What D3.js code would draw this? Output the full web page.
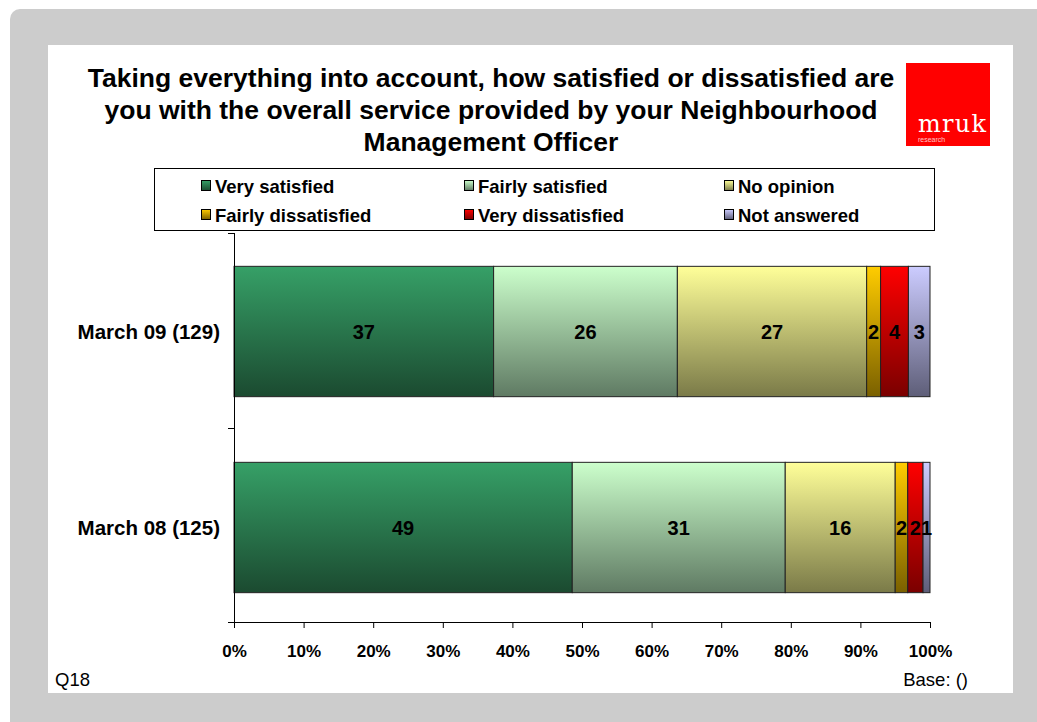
<!DOCTYPE html>
<html>
<head>
<meta charset="utf-8">
<script src="https://cdn.jsdelivr.net/npm/d3@7/dist/d3.min.js"></script>
<style>
  html, body { margin: 0; padding: 0; background: #fff; }
  svg { display: block; font-family: Arial, "Liberation Sans", sans-serif; }
</style>
</head>
<body>
<svg id="chart" width="1037" height="722"></svg>
<script>
// Survey waves, listed top-down
const categories = ["March 09 (129)", "March 08 (125)"];
const seriesNames = ["Very satisfied", "Fairly satisfied", "No opinion",
                     "Fairly dissatisfied", "Very dissatisfied", "Not answered"];
// Percentage of respondents per answer, one array per wave
const march09 = [37.3, 26.4, 27.2, 2.0, 4.0, 3.1];
const march08 = [48.6, 30.6, 15.8, 1.8, 2.2, 1.0];
const values = [march09, march08];
const tickValues = [0, 10, 20, 30, 40, 50, 60, 70, 80, 90, 100];
const titleLines = [
  "Taking everything into account, how satisfied or dissatisfied are",
  "you with the overall service provided by your Neighbourhood",
  "Management Officer"
];
// Gradient stops per series: top colour, bottom colour
const topColors = ["#36a067", "#ccffcc", "#ffff99", "#ffcc00", "#ff0000", "#ccccff"];
const bottomColors = ["#1b4a30", "#5f7a63", "#7a7a48", "#7a6000", "#7a0000", "#5e5e78"];

const svg = d3.select("#chart");
const defs = svg.append("defs");
seriesNames.forEach((s, i) => {
  const g = defs.append("linearGradient")
    .attr("id", "grad" + i).attr("x1", 0).attr("y1", 0).attr("x2", 0).attr("y2", 1);
  g.append("stop").attr("offset", "0%").attr("stop-color", topColors[i]);
  g.append("stop").attr("offset", "100%").attr("stop-color", bottomColors[i]);
});

// Frame: grey panel with rounded corner and white sheet
svg.append("rect").attr("x", 10).attr("y", 9).attr("width", 1060).attr("height", 740)
  .attr("rx", 10).attr("fill", "#cccccc");
svg.append("rect").attr("x", 48).attr("y", 45).attr("width", 965).attr("height", 648)
  .attr("fill", "#ffffff");

// Title
const title = svg.append("text").attr("text-anchor", "middle")
  .attr("font-weight", "bold").attr("font-size", 26.5).attr("fill", "#000");
titleLines.forEach((t, i) => {
  title.append("tspan").attr("x", 491).attr("y", 87 + i * 32).text(t);
});

// Logo
const logo = svg.append("g");
logo.append("rect").attr("x", 906).attr("y", 63).attr("width", 84).attr("height", 83).attr("fill", "#ff0000");
logo.append("text").attr("x", 986).attr("y", 132).attr("text-anchor", "end")
  .attr("font-family", "'DejaVu Serif', 'Liberation Serif', serif").attr("font-size", 24)
  .attr("fill", "#fff").attr("textLength", 68).text("mruk");
logo.append("text").attr("x", 918).attr("y", 142)
  .attr("font-size", 7).attr("fill", "#ffc8c8").text("research");

// Legend
const legend = svg.append("g");
legend.append("rect").attr("x", 154.5).attr("y", 168.5).attr("width", 780).attr("height", 62)
  .attr("fill", "#fff").attr("stroke", "#000").attr("stroke-width", 1);
const legX = [201, 464, 724];
const legY = [186, 215];
seriesNames.forEach((s, i) => {
  const col = i % 3, row = Math.floor(i / 3);
  const g = legend.append("g").attr("transform", `translate(${legX[col]},${legY[row]})`);
  g.append("rect").attr("x", 0.5).attr("y", -5.5).attr("width", 9).attr("height", 10)
    .attr("fill", `url(#grad${i})`).attr("stroke", "#000").attr("stroke-width", 1);
  g.append("text").attr("x", 14).attr("y", 6.5).attr("font-size", 18.5).attr("font-weight", "bold")
    .attr("fill", "#000").text(s);
});

// Plot area
const plot = { left: 234, right: 930, top: 233, bottom: 622 };
const x = d3.scaleLinear().domain([0, 100]).range([plot.left, plot.right]);
const y = d3.scaleBand().domain(categories).range([plot.top + 0.5, plot.bottom + 3.5])
  .paddingInner(0.335).paddingOuter(0.1675);

// Stacked segments
const rows = categories.map((c, ci) => {
  let acc = 0;
  return values[ci].map((v, si) => {
    const seg = { cat: c, series: si, v, x0: acc, x1: acc + v };
    acc += v;
    return seg;
  });
});

const bars = svg.append("g");
rows.forEach(row => {
  bars.selectAll(null).data(row).enter().append("rect")
    .attr("x", d => x(d.x0)).attr("y", d => y(d.cat))
    .attr("width", d => x(d.x1) - x(d.x0)).attr("height", y.bandwidth())
    .attr("fill", d => `url(#grad${d.series})`)
    .attr("stroke", "#222").attr("stroke-width", 1);
  bars.selectAll(null).data(row).enter().append("text")
    .attr("x", d => (x(d.x0) + x(d.x1)) / 2).attr("y", d => y(d.cat) + y.bandwidth() / 2 + 7)
    .attr("text-anchor", "middle").attr("font-weight", "bold").attr("font-size", 20)
    .attr("fill", "#000").text(d => d3.format(".0f")(d.v));
});

// Axes
const xAxis = d3.axisBottom(x).tickValues(tickValues).tickSize(6).tickPadding(17)
  .tickFormat(d => d + "%");
const gx = svg.append("g").attr("transform", `translate(0,${plot.bottom})`).call(xAxis);
gx.select(".domain").attr("stroke", "#000").attr("d", `M${plot.left - 6},0.5H${plot.right}`);
gx.selectAll(".tick line").attr("stroke", "#000");
gx.selectAll(".tick text").attr("font-family", "Arial, 'Liberation Sans', sans-serif")
  .attr("font-size", 17).attr("font-weight", "bold").attr("fill", "#000");

// Category axis with boundary ticks
const ga = svg.append("g");
ga.append("line").attr("x1", plot.left + 0.5).attr("x2", plot.left + 0.5)
  .attr("y1", plot.top).attr("y2", plot.bottom).attr("stroke", "#000");
const bounds = [plot.top, (plot.top + plot.bottom) / 2, plot.bottom];
ga.selectAll(null).data(bounds).enter().append("line")
  .attr("x1", plot.left - 6).attr("x2", plot.left)
  .attr("y1", d => Math.round(d) + 0.5).attr("y2", d => Math.round(d) + 0.5).attr("stroke", "#000");
ga.selectAll(null).data(categories).enter().append("text")
  .attr("x", 220).attr("y", d => y(d) + y.bandwidth() / 2 + 7)
  .attr("text-anchor", "end").attr("font-size", 20.5).attr("font-weight", "bold")
  .attr("fill", "#000").text(d => d);

// Footer notes
svg.append("text").attr("x", 55).attr("y", 686).attr("font-size", 18.5).attr("fill", "#000").text("Q18");
svg.append("text").attr("x", 968).attr("y", 686).attr("text-anchor", "end")
  .attr("font-size", 18.5).attr("fill", "#000").text("Base: ()");
</script>
</body>
</html>
